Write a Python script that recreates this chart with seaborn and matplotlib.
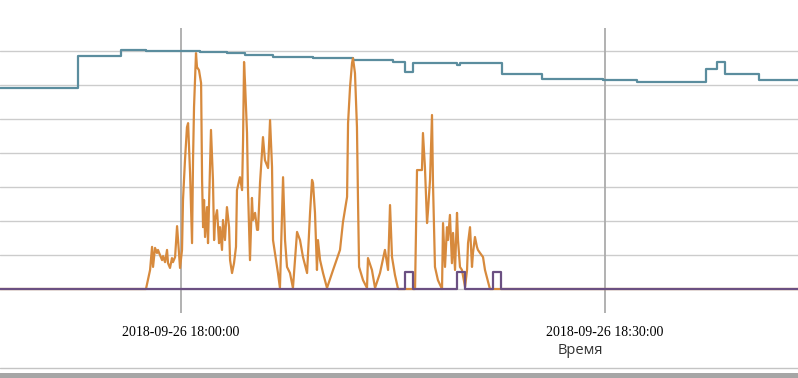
import numpy as np
import pandas as pd
import seaborn as sns
import matplotlib.pyplot as plt
import matplotlib.dates as mdates
from matplotlib.lines import Line2D
from matplotlib.patches import Rectangle

# minutes relative to 2018-09-26 18:00:00
start_min, end_min = -12.81, 43.66

blue_min = [-12.81, -7.29, -4.25, -2.48, 1.34, 3.25, 4.53, 6.51, 9.34, 12.17,
            15.0, 15.85, 16.42, 19.53, 19.74, 22.71, 25.54, 29.86, 32.26, 37.15,
            37.93, 38.49, 40.90, 43.66]
blue_val = [59.1, 68.5, 70.3, 70.0, 69.7, 69.4, 68.8, 68.2, 67.9, 67.4,
            66.8, 63.8, 66.5, 65.9, 66.5, 63.2, 61.8, 61.5, 60.9, 64.7,
            66.8, 63.2, 61.5, 61.5]

orange_min = [-12.81,
              -2.48, -2.19, -2.05, -1.98, -1.84, -1.70, -1.63, -1.49, -1.34, -1.27,
              -1.13, -0.99, -0.92, -0.78, -0.64, -0.57, -0.42, -0.28, -0.21, -0.07,
              0.07, 0.14, 0.28, 0.42, 0.50, 0.64, 0.78, 0.85, 0.92, 1.06,
              1.13, 1.27, 1.42, 1.49, 1.56, 1.63, 1.70, 1.84, 1.91, 2.05,
              2.12, 2.26, 2.34, 2.41, 2.55, 2.69, 2.76, 2.90, 2.97, 3.11,
              3.25, 3.40, 3.47, 3.61, 3.75, 3.89, 3.96, 4.17, 4.32, 4.39,
              4.46, 4.53, 4.67, 4.74, 4.88, 5.02, 5.09, 5.24, 5.38, 5.45,
              5.59, 5.73, 5.80, 5.94, 6.16, 6.30, 6.44, 6.51, 6.79, 6.86,
              7.00, 7.22, 7.36, 7.50, 7.71, 7.92, 8.21, 8.42, 8.63, 8.92,
              9.13, 9.27, 9.34, 9.48, 9.62, 9.69, 9.84, 10.05, 10.33, 10.76,
              11.25, 11.46, 11.75, 11.82, 11.96, 12.10, 12.17, 12.31, 12.45, 12.52,
              12.60, 12.88, 13.16, 13.23, 13.51, 13.73, 14.08, 14.43, 14.65, 14.79,
              14.93, 15.14, 15.36, 16.56, 16.70, 17.05, 17.12, 17.26, 17.41, 17.48,
              17.62, 17.76, 17.83, 17.97, 18.18, 18.47, 18.54, 18.68, 18.82, 18.89,
              19.03, 19.17, 19.25, 19.39, 19.53, 19.60, 19.74, 19.88, 20.10, 20.24,
              20.31, 20.45, 20.59, 20.66, 20.80, 20.94, 21.01, 21.16, 21.37, 21.51,
              21.86,
              43.66]
orange_val = [0,
              0, 5.6, 12.4, 6.5, 12.1, 10.6, 11.5, 10.0, 8.5, 9.7,
              7.9, 11.5, 7.6, 6.2, 9.1, 7.9, 9.4, 18.5, 14.4, 6.2,
              11.5, 26.2, 37.9, 47.6, 48.8, 34.1, 13.5, 37.9, 53.5, 69.4,
              65.3, 64.4, 60.6, 32.1, 18.2, 26.2, 15.3, 24.1, 13.5, 35.9,
              46.8, 32.1, 14.4, 20.3, 23.2, 13.5, 18.2, 11.5, 20.3, 14.4,
              24.1, 18.2, 8.5, 4.7, 7.6, 12.4, 29.1, 32.9, 29.1, 43.8,
              66.8, 60.6, 45.9, 29.1, 8.5, 26.8, 20.3, 22.4, 17.4, 17.4,
              31.2, 40.0, 44.7, 37.9, 35.6, 49.7, 35.9, 14.4, 6.5, 4.7,
              0.3, 32.9, 14.4, 6.5, 4.7, 0.3, 16.8, 14.4, 9.4, 4.7,
              22.4, 32.1, 31.2, 22.4, 5.6, 14.4, 8.5, 4.7, 0.3, 5.6,
              11.5, 19.7, 27.1, 48.8, 59.4, 66.5, 67.9, 63.5, 47.6, 27.1,
              6.5, 2.6, 0.3, 9.1, 5.6, 0.3, 4.7, 11.5, 5.6, 24.7,
              9.4, 4.1, 0, 0, 35.0, 35.0, 45.9, 35.9, 19.4, 23.2,
              32.1, 51.2, 31.2, 6.5, 2.6, 0, 19.4, 6.5, 18.2, 14.4,
              21.8, 7.6, 16.5, 5.6, 22.4, 14.4, 6.5, 5.6, 0.6, 5.6,
              13.5, 18.2, 6.5, 10.6, 15.3, 12.4, 11.5, 10.6, 9.4, 5.6,
              0,
              0]

purple_min = [-12.81, 15.85, 16.42, 19.53, 20.10, 22.08, 22.64, 43.66]
purple_val = [0, 5, 0, 5, 0, 5, 0, 0]

tick_labels = ["2018-09-26 18:00:00", "2018-09-26 18:30:00"]
x_label = "Время"

base = pd.Timestamp("2018-09-26 18:00:00")


def to_frame(minutes, values):
    return pd.DataFrame({"t": base + pd.to_timedelta(minutes, unit="min"),
                         "v": values})


blue = to_frame(blue_min, blue_val)
orange = to_frame(orange_min, orange_val)
purple = to_frame(purple_min, purple_val)

sns.set_style("white")
fig = plt.figure(figsize=(7.98, 3.78), dpi=100)
ax = fig.add_axes([0, 1 - 313 / 378, 1, (313 - 28) / 378])

sns.lineplot(data=blue, x="t", y="v", ax=ax, color="#5b8d9e", lw=1.6,
             drawstyle="steps-post", zorder=3)
sns.lineplot(data=orange, x="t", y="v", ax=ax, color="#d78a3d", lw=1.6,
             zorder=4)
sns.lineplot(data=purple, x="t", y="v", ax=ax, color="#6b5082", lw=1.6,
             drawstyle="steps-post", zorder=5)

ax.set_xlim(base + pd.Timedelta(minutes=start_min),
            base + pd.Timedelta(minutes=end_min))
ax.set_ylim(-7.06, 76.8)

for v in range(0, 80, 10):
    ax.axhline(v, color="#cccccc", lw=1.0, zorder=1)
ticks = [base, base + pd.Timedelta(minutes=30)]
for t in ticks:
    ax.axvline(t, color="#ababab", lw=1.3, zorder=2)

ax.set_xticks(ticks)
ax.set_xticklabels(tick_labels, fontfamily="Liberation Serif", fontsize=10,
                   color="black")
ax.tick_params(axis="x", length=0, pad=9)
ax.set_yticks([])
ax.set_ylabel("")
ax.set_xlabel(x_label, fontfamily="Open Sans", fontsize=10.5, color="#333333")
ax.xaxis.set_label_coords(580 / 798, -(343 - 313) / 285)
for s in ax.spines.values():
    s.set_visible(False)

fig.add_artist(Line2D([0, 1], [1 - 368 / 378] * 2, color="#c4c4c4", lw=1.0))
fig.add_artist(Rectangle((0, 0), 1, 5.5 / 378, transform=fig.transFigure,
                         color="#a6a6a6", lw=0))

fig.savefig("out.png", dpi=100)
